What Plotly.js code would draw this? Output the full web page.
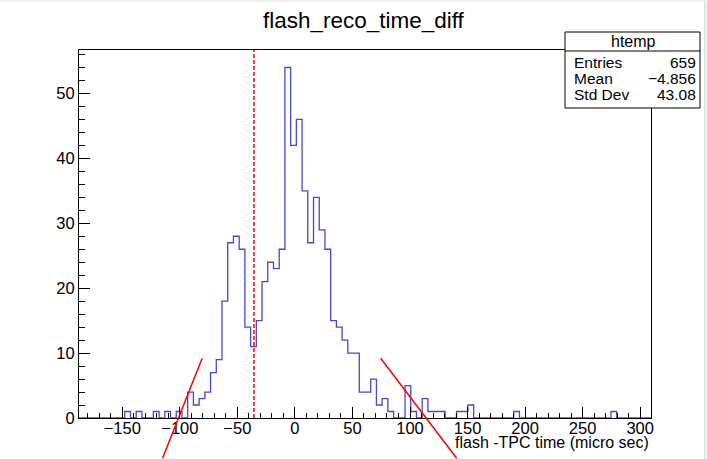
<!DOCTYPE html>
<html>
<head>
<meta charset="utf-8">
<script src="https://cdn.plot.ly/plotly-3.0.1.min.js"></script>
<style>
  html, body { margin: 0; padding: 0; background: #fff; }
  #chart { width: 707px; height: 459px; }
</style>
</head>
<body>
<div id="chart"></div>
<script>
// ---- data ----
const chartTitle = 'flash_reco_time_diff';
const xAxisTitle = 'flash -TPC time (micro sec)';
const xMin = -187.6;      // lower edge of first bin
const binWidth = 4.97;    // 100 bins
const counts = [
  0, 0, 0, 0, 0, 0, 0, 0, 1, 0,
  1, 0, 0, 1, 0, 1, 0, 1, 0, 4,
  2, 3, 4, 7, 9, 18, 27, 28, 26, 14,
  11, 15, 21, 24, 23, 26, 54, 42, 46, 35,
  27, 34, 29, 26, 15, 14, 12, 10, 10, 4,
  4, 6, 2, 3, 1, 0, 0, 5, 1, 0,
  3, 1, 1, 1, 0, 0, 1, 1, 2, 0,
  0, 0, 0, 0, 0, 0, 1, 0, 0, 0,
  0, 0, 0, 0, 0, 0, 0, 0, 0, 0,
  0, 0, 0, 1, 0, 0, 0, 0, 0, 0
];
const yMax = 56.7;
const statsTitle = 'htemp';
const statsLabels = ['Entries', 'Mean', 'Std Dev'];
const statsValues = ['659', '\u22124.856', '43.08'];
const cutValue = -35.6;                 // red dashed vertical line
const slashA = { x: [-80.6, -115.0], y: [9.2, -6.2] };  // hand-drawn red lines
const slashB = { x: [74.5, 140.6], y: [9.2, -6.2] };

// ---- build step outline ----
const nBins = counts.length;
const edges = [];
for (let i = 0; i <= nBins; i++) edges.push(xMin + i * binWidth);
const xMax = edges[nBins];
const stepX = edges.slice();
const stepY = counts.concat([counts[nBins - 1]]);

// ---- geometry ----
const W = 707, H = 459;
const mL = 79, mR = 56, mT = 50, mB = 41;
const pw = W - mL - mR, ph = H - mT - mB;
const px2paperX = p => (p - mL) / pw;
const py2paperY = p => (H - mB - p) / ph;
const dx2paper = v => (v - xMin) / (xMax - xMin);
const dy2paper = v => v / yMax;

const FONT = 'Liberation Sans, Arial, Helvetica, sans-serif';

const trace = {
  x: stepX, y: stepY, type: 'scatter', mode: 'lines',
  line: { shape: 'hv', color: '#4848c8', width: 1.3 },
  hoverinfo: 'skip', showlegend: false, cliponaxis: true
};

const shapes = [
  { type: 'line', xref: 'x', yref: 'paper', x0: cutValue, x1: cutValue, y0: 0, y1: 1,
    line: { color: '#ff0000', width: 1.5, dash: '4px,2px' } },
  { type: 'line', xref: 'paper', yref: 'paper',
    x0: dx2paper(slashA.x[0]), y0: dy2paper(slashA.y[0]), x1: dx2paper(slashA.x[1]), y1: dy2paper(slashA.y[1]),
    line: { color: '#ff0000', width: 1.5 } },
  { type: 'line', xref: 'paper', yref: 'paper',
    x0: dx2paper(slashB.x[0]), y0: dy2paper(slashB.y[0]), x1: dx2paper(slashB.x[1]), y1: dy2paper(slashB.y[1]),
    line: { color: '#ff0000', width: 1.5 } },
  // stats box
  { type: 'rect', xref: 'paper', yref: 'paper',
    x0: px2paperX(565), x1: px2paperX(700), y0: py2paperY(108), y1: py2paperY(32),
    fillcolor: '#ffffff', line: { color: '#000', width: 1 } },
  { type: 'line', xref: 'paper', yref: 'paper',
    x0: px2paperX(565), x1: px2paperX(700), y0: py2paperY(51), y1: py2paperY(51),
    line: { color: '#000', width: 1 } },
  // outer canvas border
  { type: 'line', xref: 'paper', yref: 'paper',
    x0: px2paperX(705), x1: px2paperX(705), y0: py2paperY(459), y1: py2paperY(1),
    line: { color: '#c8c8c8', width: 1 } },
  { type: 'line', xref: 'paper', yref: 'paper',
    x0: px2paperX(0), x1: px2paperX(705), y0: py2paperY(1), y1: py2paperY(1),
    line: { color: '#e0e0e0', width: 1 } }
];

const annotations = [
  { xref: 'paper', yref: 'paper', x: 1, y: py2paperY(442), xanchor: 'right', yanchor: 'middle',
    text: xAxisTitle, showarrow: false, font: { family: FONT, size: 16, color: '#000' } },
  { xref: 'paper', yref: 'paper', x: px2paperX(633), y: py2paperY(41.5), xanchor: 'center', yanchor: 'middle',
    text: statsTitle, showarrow: false, font: { family: FONT, size: 16, color: '#000' } }
];
const rowY = [62, 78, 94];
statsLabels.forEach((lab, i) => {
  annotations.push({ xref: 'paper', yref: 'paper', x: px2paperX(572), y: py2paperY(rowY[i]),
    xanchor: 'left', yanchor: 'middle', text: lab, showarrow: false,
    font: { family: FONT, size: 15.5, color: '#000' } });
  annotations.push({ xref: 'paper', yref: 'paper', x: px2paperX(698), y: py2paperY(rowY[i]),
    xanchor: 'right', yanchor: 'middle', text: statsValues[i], showarrow: false,
    font: { family: FONT, size: 15.5, color: '#000' } });
});

const layout = {
  width: W, height: H,
  margin: { l: mL, r: mR, t: mT, b: mB, pad: 0 },
  paper_bgcolor: '#fff', plot_bgcolor: '#fff',
  title: { text: chartTitle, x: 0.514, xref: 'container', y: 1 - 20 / H, yref: 'container',
           xanchor: 'center', yanchor: 'middle', font: { family: FONT, size: 22.5, color: '#000' } },
  xaxis: {
    range: [xMin, xMax], showgrid: false, zeroline: false,
    showline: true, linecolor: '#000', linewidth: 1, mirror: true,
    ticks: 'inside', ticklen: 11, tickcolor: '#000', tickwidth: 1,
    tick0: 0, dtick: 50, ticklabelstandoff: -5,
    minor: { dtick: 10, ticks: 'inside', ticklen: 5.5, tickcolor: '#000', tickwidth: 1 },
    tickfont: { family: FONT, size: 16.5, color: '#000' }
  },
  yaxis: {
    range: [0, yMax], showgrid: false, zeroline: false,
    showline: true, linecolor: '#000', linewidth: 1, mirror: true,
    ticks: 'inside', ticklen: 11, tickcolor: '#000', tickwidth: 1,
    tick0: 0, dtick: 10, ticklabelstandoff: 0,
    minor: { dtick: 2, ticks: 'inside', ticklen: 5.5, tickcolor: '#000', tickwidth: 1 },
    tickfont: { family: FONT, size: 16.5, color: '#000' }
  },
  shapes: shapes,
  annotations: annotations,
  showlegend: false
};

Plotly.newPlot('chart', [trace], layout, { staticPlot: true, displayModeBar: false });
</script>
</body>
</html>
